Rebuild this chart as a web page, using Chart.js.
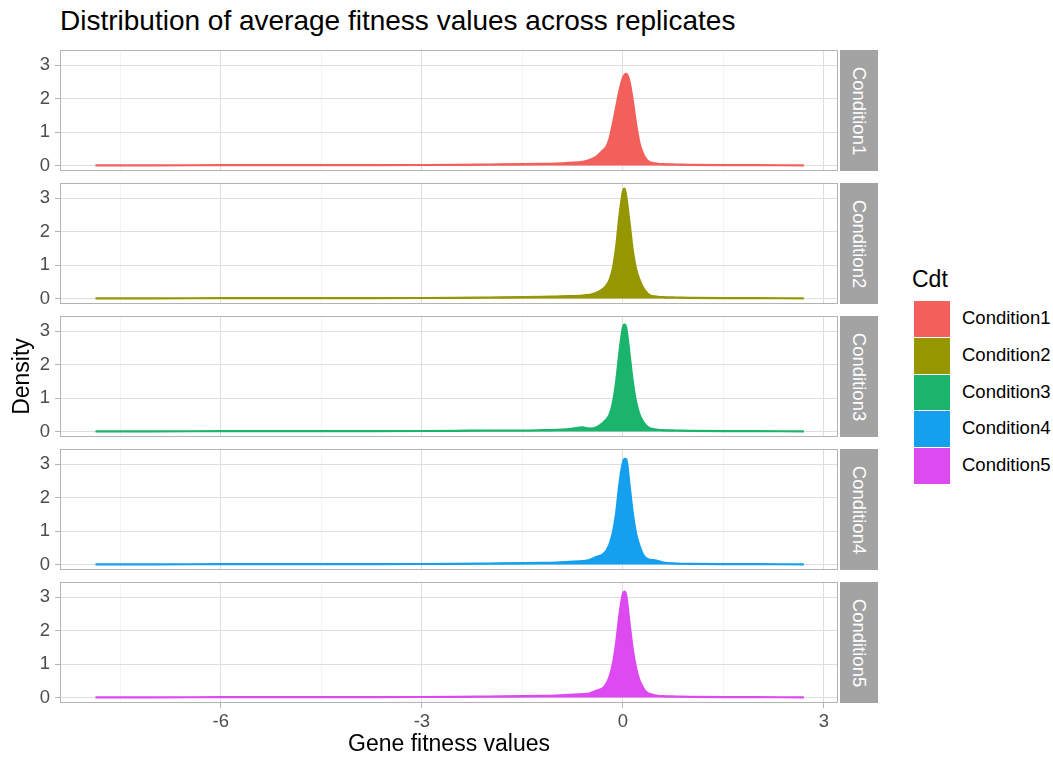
<!DOCTYPE html>
<html>
<head>
<meta charset="utf-8">
<script src="https://cdn.jsdelivr.net/npm/chart.js@4"></script>
<style>
  body { margin: 0; background: #fff; font-family: "Liberation Sans", Arial, sans-serif; }
  #wrap { position: relative; width: 1053px; height: 758px; overflow: hidden; }
  canvas { position: absolute; left: 0; }
  .title { position: absolute; left: 60px; top: 7px; font-size: 28px; line-height: 28px; color: #000; white-space: nowrap; }
  .strip { position: absolute; left: 840px; width: 38px; height: 121px; background: #A3A3A3; }
  .strip span { position: absolute; left: 50%; top: 50%; transform: translate(-50%, -50%) rotate(90deg); color: #fff; font-size: 18.5px; white-space: nowrap; }
  .legtitle { position: absolute; left: 912px; top: 268px; font-size: 23px; line-height: 23px; }
  .key { position: absolute; left: 913px; width: 36px; height: 36px; border: 0.5px solid #fff; }
  .keylab { position: absolute; left: 962px; font-size: 18.5px; line-height: 20px; white-space: nowrap; }
</style>
</head>
<body>
<div id="wrap">
  <div class="title">Distribution of average fitness values across replicates</div>
</div>
<script>
// facet names and fill colours
const conditionNames = ['Condition1', 'Condition2', 'Condition3', 'Condition4', 'Condition5'];
const fillColors = ['#F3605C', '#969600', '#1BB46C', '#149FEF', '#DD4AF0'];

// x positions of the density estimate (gene fitness values)
const xValues = [-7.87, -7, -6, -5, -4, -3, -2.5, -2, -1.5, -1.2, -1.0, -0.8, -0.6, -0.5, -0.4, -0.3, -0.25, -0.2, -0.15, -0.1, -0.05, 0, 0.025, 0.05, 0.1, 0.15, 0.2, 0.25, 0.3, 0.35, 0.4, 0.5, 0.6, 0.8, 1.0, 1.5, 2.0, 2.7];

// density values
const condition1 = [0.005, 0.006, 0.008, 0.01, 0.012, 0.015, 0.02, 0.03, 0.04, 0.05, 0.06, 0.08, 0.11, 0.16, 0.26, 0.45, 0.55, 0.8, 1.25, 1.75, 2.25, 2.62, 2.71, 2.74, 2.5, 1.9, 1.2, 0.65, 0.35, 0.18, 0.1, 0.06, 0.04, 0.03, 0.02, 0.01, 0.008, 0.005];
const condition2 = [0.005, 0.006, 0.008, 0.01, 0.012, 0.015, 0.02, 0.03, 0.04, 0.05, 0.06, 0.07, 0.09, 0.11, 0.16, 0.28, 0.38, 0.55, 0.9, 1.55, 2.5, 3.2, 3.29, 3.05, 2.25, 1.4, 0.85, 0.55, 0.33, 0.19, 0.1, 0.06, 0.04, 0.03, 0.02, 0.01, 0.008, 0.005];
const condition3 = [0.005, 0.006, 0.008, 0.01, 0.012, 0.015, 0.02, 0.03, 0.03, 0.04, 0.05, 0.07, 0.12, 0.09, 0.12, 0.25, 0.35, 0.5, 0.85, 1.5, 2.4, 3.12, 3.2, 3.1, 2.3, 1.45, 0.85, 0.5, 0.3, 0.17, 0.1, 0.06, 0.04, 0.03, 0.02, 0.01, 0.008, 0.005];
const condition4 = [0.005, 0.006, 0.008, 0.01, 0.012, 0.015, 0.02, 0.03, 0.04, 0.05, 0.06, 0.08, 0.1, 0.13, 0.22, 0.3, 0.4, 0.6, 0.95, 1.55, 2.45, 3.05, 3.16, 3.15, 2.35, 1.5, 0.9, 0.55, 0.3, 0.18, 0.14, 0.12, 0.06, 0.03, 0.02, 0.01, 0.008, 0.005];
const condition5 = [0.005, 0.006, 0.008, 0.01, 0.012, 0.015, 0.02, 0.03, 0.04, 0.05, 0.06, 0.08, 0.1, 0.12, 0.2, 0.28, 0.4, 0.62, 1.0, 1.65, 2.5, 3.1, 3.17, 3.05, 2.2, 1.4, 0.85, 0.5, 0.3, 0.16, 0.1, 0.06, 0.04, 0.03, 0.02, 0.01, 0.008, 0.005];
const series = [condition1, condition2, condition3, condition4, condition5];

// axis ticks (major + minor grid)
const xGrid = [-7.5, -6, -4.5, -3, -1.5, 0, 1.5, 3];
const xLabels = [-6, -3, 0, 3];
const yGrid = [0, 0.5, 1, 1.5, 2, 2.5, 3];
const yLabels = [0, 1, 2, 3];

const panelTops = [50, 183, 316, 449, 582];
const panelH = 121;

const wrap = document.getElementById('wrap');

const panelBorder = {
  id: 'panelBorder',
  afterDatasetsDraw(chart) {
    const a = chart.chartArea, c = chart.ctx;
    c.save();
    c.strokeStyle = '#B3B3B3';
    c.lineWidth = 1;
    c.strokeRect(Math.round(a.left) + 0.5, Math.round(a.top) + 0.5, Math.round(a.right - a.left) - 1, Math.round(a.bottom - a.top) - 1);
    c.restore();
  }
};

const isMajor = (list, v) => list.some(t => Math.abs(t - v) < 1e-9);

conditionNames.forEach((name, i) => {
  const last = i === conditionNames.length - 1;
  const canvas = document.createElement('canvas');
  const top = panelTops[i] - 6;
  const h = last ? 758 - top : panelH + 12;
  canvas.width = 840; canvas.height = h;
  canvas.style.top = top + 'px';
  canvas.style.width = '840px'; canvas.style.height = h + 'px';
  wrap.appendChild(canvas);

  const strip = document.createElement('div');
  strip.className = 'strip';
  strip.style.top = panelTops[i] + 'px';
  strip.innerHTML = '<span>' + name + '</span>';
  wrap.appendChild(strip);

  new Chart(canvas, {
    type: 'line',
    data: {
      datasets: [{
        data: xValues.map((x, k) => ({ x: x, y: series[i][k] })),
        borderColor: fillColors[i],
        backgroundColor: fillColors[i],
        fill: 'origin',
        borderWidth: 2.2,
        pointRadius: 0,
        cubicInterpolationMode: 'monotone'
      }]
    },
    options: {
      responsive: false,
      animation: false,
      devicePixelRatio: 1,
      layout: { padding: { top: 6, right: 2, left: 0, bottom: 0 } },
      plugins: { legend: { display: false }, tooltip: { enabled: false } },
      scales: {
        x: {
          type: 'linear', min: -8.40, max: 3.21,
          afterBuildTicks: s => { s.ticks = xGrid.map(v => ({ value: v })); },
          afterFit: s => { s.height = last ? 55 : 6; },
          border: { display: false },
          grid: {
            drawTicks: last,
            tickLength: 5,
            color: c => isMajor(xLabels, c.tick.value) ? '#DEDEDE' : '#EFEFEF',
            lineWidth: c => isMajor(xLabels, c.tick.value) ? 1 : 0.7,
            tickColor: c => isMajor(xLabels, c.tick.value) ? '#B3B3B3' : 'rgba(0,0,0,0)'
          },
          ticks: {
            display: last,
            autoSkip: false,
            maxRotation: 0,
            padding: 3,
            color: '#4D4D4D',
            font: { family: 'Liberation Sans', size: 18.5 },
            callback: v => isMajor(xLabels, v) ? String(v) : ''
          },
          title: {
            display: last,
            text: 'Gene fitness values',
            color: '#000',
            padding: { top: 0, bottom: 0 },
            font: { family: 'Liberation Sans', size: 23 }
          }
        },
        y: {
          min: -0.165, max: 3.455,
          afterBuildTicks: s => { s.ticks = yGrid.map(v => ({ value: v })); },
          afterFit: s => { s.width = 60; s.paddingTop = 0; s.paddingBottom = 0; },
          border: { display: false },
          grid: {
            tickLength: 5,
            color: c => isMajor(yLabels, c.tick.value) ? '#DEDEDE' : '#EFEFEF',
            lineWidth: c => isMajor(yLabels, c.tick.value) ? 1 : 0.7,
            tickColor: c => isMajor(yLabels, c.tick.value) ? '#B3B3B3' : 'rgba(0,0,0,0)'
          },
          ticks: {
            padding: 5,
            color: '#4D4D4D',
            font: { family: 'Liberation Sans', size: 18.5 },
            callback: v => isMajor(yLabels, v) ? String(v) : ''
          },
          title: {
            display: i === 2,
            text: 'Density',
            color: '#000',
            padding: { top: 9, bottom: 0 },
            font: { family: 'Liberation Sans', size: 23 }
          }
        }
      }
    },
    plugins: [panelBorder]
  });
});

// legend
const lt = document.createElement('div');
lt.className = 'legtitle';
lt.textContent = 'Cdt';
wrap.appendChild(lt);
conditionNames.forEach((name, i) => {
  const y = 300 + i * 36.8;
  const k = document.createElement('div');
  k.className = 'key';
  k.style.top = y + 'px';
  k.style.background = fillColors[i];
  wrap.appendChild(k);
  const l = document.createElement('div');
  l.className = 'keylab';
  l.style.top = (y + 8) + 'px';
  l.textContent = name;
  wrap.appendChild(l);
});
</script>
</body>
</html>
